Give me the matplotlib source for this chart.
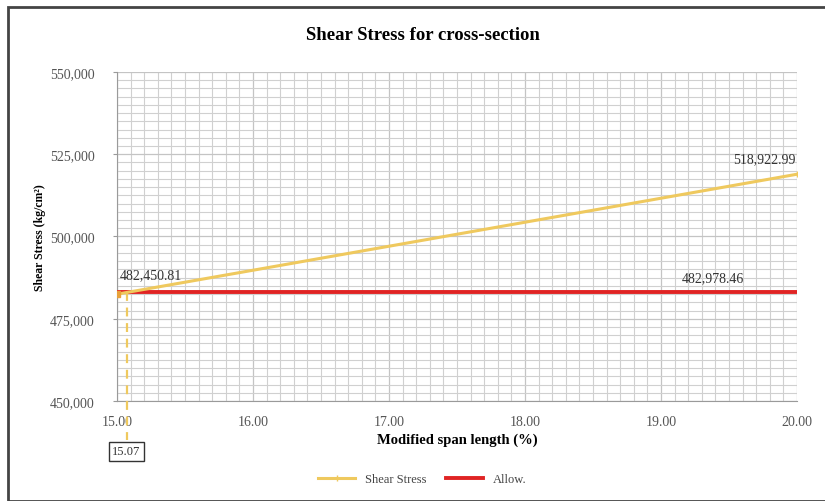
import matplotlib
matplotlib.use("Agg")
import matplotlib.pyplot as plt
from matplotlib.ticker import MultipleLocator, FuncFormatter
from matplotlib.patches import Rectangle

plt.rcParams['font.family'] = ['Liberation Serif', 'DejaVu Serif']

span = [15.00, 15.07, 16.00, 17.00, 18.00, 19.00, 20.00]
shear = [482450.81, 482978.46, 489745, 497040, 504334, 511628, 518922.99]
allow_x = [15.00, 20.00]
allow = [482978.46, 482978.46]
cross_x = 15.07
cross_y = 482978.46
title = "Shear Stress for cross-section"
xlabel = "Modified span length (%)"
ylabel = "Shear Stress (kg/cm²)"

yellow = "#EFC95E"
red = "#E02424"

fig = plt.figure(figsize=(8.25, 5.02), dpi=100)
ax = fig.add_axes([0.1418, 0.1992, 0.966 - 0.1418, 0.8546 - 0.1992])

ax.set_xlim(15, 20)
ax.set_ylim(450000, 550000)
ax.xaxis.set_major_locator(MultipleLocator(1))
ax.xaxis.set_minor_locator(MultipleLocator(0.1))
ax.yaxis.set_major_locator(MultipleLocator(25000))
ax.yaxis.set_minor_locator(MultipleLocator(2500))
ax.xaxis.set_major_formatter(FuncFormatter(lambda v, p: f"{v:.2f}"))
ax.yaxis.set_major_formatter(FuncFormatter(lambda v, p: f"{v:,.0f}"))
ax.grid(which='major', color='#c4c4c4', linewidth=0.9)
ax.grid(which='minor', color='#d0d0d0', linewidth=0.8)
ax.set_axisbelow(True)
for s in ['top', 'right']:
    ax.spines[s].set_visible(False)
for s in ['left', 'bottom']:
    ax.spines[s].set_color('#9a9a9a')
ax.tick_params(which='both', length=0)
ax.tick_params(which='major', axis='y', length=3, color='#9a9a9a', pad=13)
ax.tick_params(labelsize=10, labelcolor='#555555')
ax.tick_params(axis='x', pad=10)

ax.plot(allow_x, allow, color=red, linewidth=2.8, label="Allow.", zorder=3)
ax.plot(span, shear, color=yellow, linewidth=2.2, marker='+', markersize=4,
        markevery=[0, len(span) - 1], label="Shear Stress", zorder=4)
ax.plot([15.0], [shear[0]], marker='s', color='#E9A23B', markersize=4, zorder=5)

# crossing dashed line
ax.plot([cross_x, cross_x], [cross_y, 450000], color=yellow, linestyle=(0, (4, 3)),
        linewidth=1.6, zorder=4)
ax.plot([cross_x, cross_x], [450000, 438000], color=yellow, linestyle=(0, (4, 3)),
        linewidth=1.6, clip_on=False, zorder=4)
ax.text(cross_x, 436500, "15.07", ha='center', va='top', fontsize=9, color='#333333',
        bbox=dict(boxstyle='square,pad=0.3', facecolor='white', edgecolor='#333333', linewidth=1.0),
        zorder=6)

ax.text(15.02, 486300, "482,450.81", fontsize=10, color='#333333', ha='left', va='bottom')
ax.text(19.76, 521800, "518,922.99", fontsize=10, color='#333333', ha='center', va='bottom')
ax.text(19.38, 485500, "482,978.46", fontsize=10, color='#333333', ha='center', va='bottom')

fig.text(0.513, 0.93, title, ha='center', va='center', fontsize=13.5, fontweight='bold')
ax.set_xlabel(xlabel, fontsize=10.5, fontweight='bold', labelpad=3)
ax.set_ylabel(ylabel, fontsize=8.5, fontweight='bold')
ax.yaxis.set_label_coords(-0.104, 0.5)

handles, labels = ax.get_legend_handles_labels()
order = [1, 0]
fig.legend([handles[i] for i in order], [labels[i] for i in order], loc='center',
           bbox_to_anchor=(0.512, 0.043), ncol=2, frameon=False, fontsize=9,
           handlelength=3, columnspacing=1.5, labelcolor='#444444')

fig.patches.append(Rectangle((8 / 825, 0), 1.2, (502 - 8) / 502, transform=fig.transFigure,
                             fill=False, edgecolor='#444444', linewidth=2.0))

fig.savefig("out.png", dpi=100)
